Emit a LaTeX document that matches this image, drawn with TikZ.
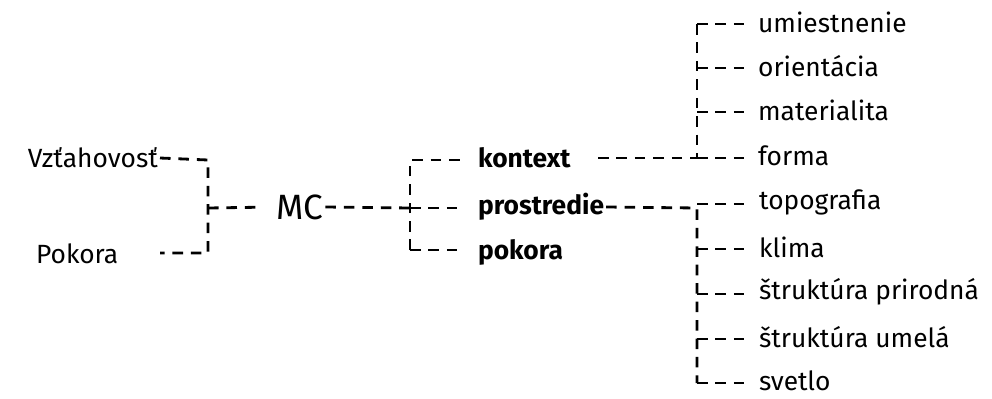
\documentclass[tikz,border=0pt]{standalone}
\usepackage{fontspec}
\setmainfont{Fira Sans}
\usetikzlibrary{positioning}

\begin{document}
\begin{tikzpicture}[x=0.02cm, y=-0.02cm,
  every node/.style={font=\fontsize{15}{17}\selectfont, inner sep=1pt},
  lbl/.style={anchor=west},
  key/.style={anchor=west, font=\fontsize{15}{17}\selectfont\bfseries},
  dline/.style={line width=1.6pt, dash pattern=on 6pt off 4.5pt},
  gap/.style={shorten >=7pt},
]
  \useasboundingbox (0,0) rectangle (992,399);

  % left pair
  \node[anchor=east] (vzt) at (160,158) {Vzťahovosť};
  \node[lbl] (pok) at (34,254) {Pokora};
  \node[font=\fontsize{20}{22}\selectfont] (mc) at (300,207) {MC};
  \coordinate (b1t) at (208,160);
  \coordinate (b1m) at (208,208);
  \coordinate (b1b) at (208,253);
  \coordinate (pokend) at (160,253);
  \draw[dline] (vzt.east) -- (b1t) -- (b1b) -- (pokend);
  \draw[dline, gap] (b1m) -- (mc.west);

  % middle branch
  \node[key] (kon) at (476,158) {kontext};
  \node[key] (pro) at (476,207) {prostredie};
  \node[key] (pko) at (476,252) {pokora};
  \coordinate (b2t) at (410,160);
  \coordinate (b2m) at (410,208);
  \coordinate (b2b) at (410,250);
  \draw[dline] (mc.east) -- (b2m);
  \draw[dline, gap] (b2b) -- (b2t) -- (kon.west |- b2t);
  \draw[dline, gap] (b2b) -- (pko.west |- b2b);
  \draw[dline, gap] (b2m) -- (pro.west |- b2m);

  % kontext
  \foreach \name/\txt/\y in {um/umiestnenie/22, ori/orientácia/66,
                              mat/materialita/110, for/forma/156} {
    \node[lbl] (\name) at (756,\y) {\txt};
    \draw[dline, gap] (697,\y+2) -- (\name.west |- 0,\y+2);
  }
  \coordinate (b3t) at (697,24);
  \coordinate (b3b) at (697,158);
  \coordinate (konend) at (598,158);
  \draw[dline] (b3t) -- (b3b);
  \draw[dline] (konend) -- (b3b);

  % prostredie
  \foreach \name/\txt/\y in {top/topografia/202, kli/klima/247,
                              spr/štruktúra prirodná/292, sum/štruktúra umelá/337,
                              sve/svetlo/381} {
    \node[lbl] (\name) at (757,\y) {\txt};
    \draw[dline, gap] (697,\y+2) -- (\name.west |- 0,\y+2);
  }
  \coordinate (b4t) at (697,208);
  \coordinate (b4b) at (697,383);
  \draw[dline] (pro.east) -- (b4t) -- (b4b);
\end{tikzpicture}
\end{document}
